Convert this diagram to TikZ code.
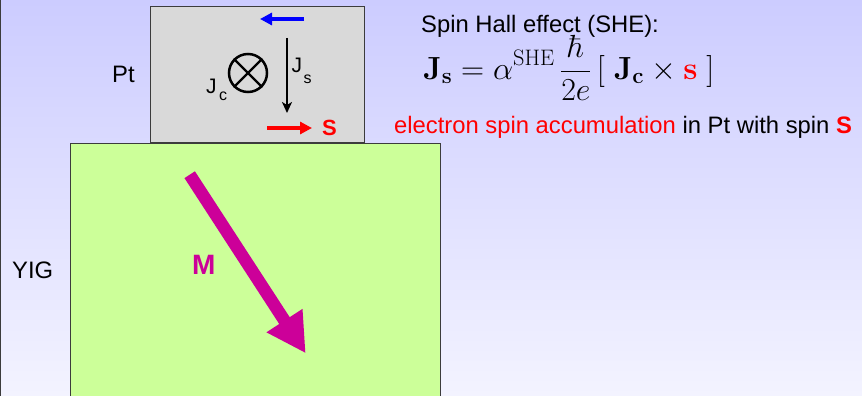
\RequirePackage{fix-cm}
\documentclass[tikz,border=0pt]{standalone}
\usepackage[no-math]{fontspec}
\setmainfont{Liberation Sans}
\usetikzlibrary{arrows.meta}
\definecolor{bgtop}{RGB}{204,204,255}
\definecolor{bgbot}{RGB}{243,243,255}
\definecolor{ptgray}{RGB}{217,217,217}
\definecolor{yiggreen}{RGB}{204,255,153}
\definecolor{mag}{RGB}{204,0,153}
\definecolor{edge}{RGB}{60,60,60}
\begin{document}
\begin{tikzpicture}[x=1pt,y=-1pt,
  txt/.style={inner sep=0pt, anchor=base west, font=\fontsize{23.8}{23.8}\selectfont},
  lbl/.style={inner sep=0pt, anchor=base west, font=\fontsize{21}{21}\selectfont},
  layer/.style={draw=edge, line width=1.2pt, inner sep=0pt, anchor=north west},
  vec/.style={line width=3.3pt, -{Triangle[length=12pt,width=12pt]}}]
\useasboundingbox (0,0) rectangle (862,396);
\shade[top color=bgtop,bottom color=bgbot] (0,0) rectangle (862,396);
\draw[edge, line width=1pt] (0.5,0) -- (0.5,396);
% layers
\node[layer, fill=ptgray, minimum width=214pt, minimum height=136pt] (pt) at (150,6) {};
\node[layer, fill=yiggreen, minimum width=370pt, minimum height=280pt] (yig) at (70,142.5) {};
% labels of layers
\node[txt] (ptlabel) at (112,82) {Pt};
\node[txt] (yiglabel) at (12,278) {YIG};
% Jc symbol
\node[draw, circle, line width=2.5pt, minimum size=38pt, inner sep=0pt] (otimes) at (248,73) {};
\draw[line width=2.3pt] (otimes.north west) -- (otimes.south east);
\draw[line width=2.3pt] (otimes.north east) -- (otimes.south west);
\node[lbl] (jc) at (206,93) {J\hspace{2.5pt}\raisebox{-7.5pt}{\fontsize{16}{16}\selectfont c}};
% Js arrow
\coordinate (jstail) at (287,38);
\coordinate (jstip) at (287,113);
\draw[line width=2pt, -{Stealth[length=11pt,width=10pt,inset=3pt]}] (jstail) -- (jstip);
\node[lbl] (js) at (291.5,73) {J\hspace{1.5pt}\raisebox{-10pt}{\fontsize{16}{16}\selectfont s}};
% blue arrow
\coordinate (bluetail) at (304,19);
\coordinate (bluetip) at (260,19);
\draw[vec, blue] (bluetail) -- (bluetip);
% red arrow and S
\coordinate (redtail) at (267,128);
\coordinate (redtip) at (312,128);
\draw[vec, red] (redtail) -- (redtip);
\node[lbl, text=red, font=\fontsize{22}{22}\selectfont\bfseries] (sspin) at (322,135) {S};
% magnetization arrow
\coordinate (mtail) at (189.7,174.7);
\coordinate (mtip) at (305.7,353.3);
\draw[mag, line width=12.5pt, -{Triangle[length=39pt,width=40pt]}] (mtail) -- (mtip);
\node[inner sep=0pt, anchor=base west, text=mag, font=\fontsize{28}{28}\selectfont\bfseries] (mlabel) at (192,274) {M};
% right side text
\node[txt] (she) at (421,33) {Spin Hall effect (SHE):};
\node[inner sep=0pt, anchor=base west, font=\fontsize{32}{32}\selectfont] (eq) at (423,79)
  {$\displaystyle \mathbf{J}_{\mathbf{s}} = \alpha^{\mathrm{SHE}}\,\frac{\hbar}{2e}\,[\;\mathbf{J}_{\mathbf{c}} \times \textcolor{red}{\mathbf{s}}\;]$};
\node[txt] (acc) at (394,133) {\textcolor{red}{electron spin accumulation} in Pt with spin \textcolor{red}{\bfseries S}};
\end{tikzpicture}
\end{document}
